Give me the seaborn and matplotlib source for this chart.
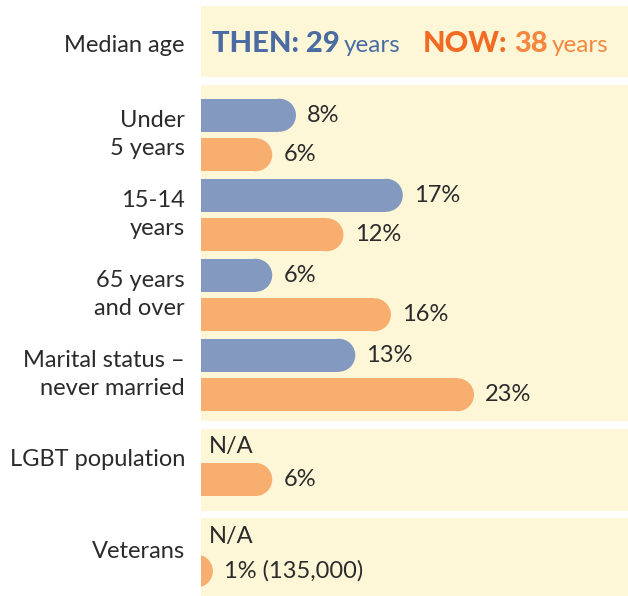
import pandas as pd
import seaborn as sns
import matplotlib.pyplot as plt
from matplotlib.patches import Ellipse
from matplotlib.transforms import ScaledTranslation

# Data
groups = ["Under\n5 years", "15-14\nyears", "65 years\nand over", "Marital status –\nnever married"]
then_vals = [8, 17, 6, 13]
now_vals = [6, 12, 16, 23]
lgbt_now = [6]
vets_now = [1]
vets_label = "1% (135,000)"
median_then = 29
median_now = 38

# Colors
blue_bar = "#8499C0"
orange_bar = "#F8AE6F"
cream = "#FDF7D8"
txt = "#2B2B2B"
blue_txt = "#4A6CA3"
orange_dark = "#F26B22"
orange_txt = "#F5873F"

sns.set_style("white")
plt.rcParams["font.family"] = ["Lato", "DejaVu Sans"]

W, H = 628, 596
fig = plt.figure(figsize=(W / 100, H / 100), dpi=100)
fig.patch.set_facecolor("white")

x_left = 201
px_per_pct = 11.87
xmax = (W - x_left) / px_per_pct
px_per_unit = 80  # vertical pixels per category unit
fs = 17


def panel_axes(top, bottom):
    return fig.add_axes([x_left / W, (H - bottom) / H, (W - x_left) / W, (bottom - top) / H])


def draw_panel(ax, df, ylim, labels=None):
    sns.barplot(data=df, x="value", y="group", hue="period", hue_order=["Then", "Now"],
                palette={"Then": blue_bar, "Now": orange_bar}, orient="h", dodge=True,
                width=0.9875, gap=0.165, errorbar=None, saturation=1, legend=False, ax=ax)
    ax.set_facecolor(cream)
    ax.set_xlim(0, xmax)
    ax.set_ylim(*ylim)
    ax.set(xlabel="", ylabel="", xticks=[])
    sns.despine(ax=ax, left=True, bottom=True)
    ax.tick_params(axis="y", length=0, pad=11.5, labelsize=fs, labelcolor=txt)
    for t in ax.get_yticklabels():
        t.set_linespacing(1.4)
        nudge = (2 + 4 * t.get_text().count("\n")) / 100
        t.set_transform(t.get_transform() + ScaledTranslation(0, nudge, fig.dpi_scale_trans))
    rx = (px_per_unit * 0.4125 / 2) / px_per_pct
    bars = [p for p in ax.patches if p.get_width() == p.get_width()]
    for i, p in enumerate(bars):
        w, h = p.get_width(), p.get_height()
        yc = p.get_y() + h / 2
        p.set_width(w - rx)
        p.set_linewidth(0)
        ax.add_patch(Ellipse((w - rx, yc), 2 * rx, h, facecolor=p.get_facecolor(),
                             edgecolor="none", linewidth=0))
        lab = labels[i] if labels else f"{w:.0f}%"
        ax.annotate(lab, xy=(w, yc), xytext=(8, 0), textcoords="offset points",
                    ha="left", va="center", fontsize=fs, color=txt)


# Header panel
ax1 = panel_axes(6, 77)
ax1.set_facecolor(cream)
ax1.set_xticks([])
ax1.set_yticks([])
sns.despine(ax=ax1, left=True, bottom=True)
ax1.text(-16 / (W - x_left), 0.45, "Median age", transform=ax1.transAxes,
         ha="right", va="center", fontsize=fs, color=txt)
base = 25 / 71
t1 = ax1.text(11 / (W - x_left), base, f"THEN: {median_then}", transform=ax1.transAxes,
              fontsize=21, fontweight="black", color=blue_txt, va="baseline")
ax1.annotate("years", xy=(1, 0), xycoords=t1, xytext=(3, 1), textcoords="offset points",
             va="bottom", fontsize=17.5, color=blue_txt)
t2 = ax1.text(222 / (W - x_left), base, "NOW:", transform=ax1.transAxes,
              fontsize=21, fontweight="black", color=orange_dark, va="baseline")
t3 = ax1.annotate(f"{median_now}", xy=(1, 0), xycoords=t2, xytext=(5, 0), textcoords="offset points",
                  va="bottom", fontsize=21, fontweight="black", color=orange_txt)
ax1.annotate("years", xy=(1, 0), xycoords=t3, xytext=(3, 1), textcoords="offset points",
             va="bottom", fontsize=17.5, color=orange_txt)

# Age / marital panel
df_main = pd.DataFrame({
    "group": groups * 2,
    "period": ["Then"] * len(groups) + ["Now"] * len(groups),
    "value": then_vals + now_vals,
})
ax2 = panel_axes(85, 421)
draw_panel(ax2, df_main, (3.575, -0.625))

# LGBT panel
df_lgbt = pd.DataFrame({"group": ["LGBT population"], "period": ["Now"], "value": lgbt_now})
ax3 = panel_axes(429, 511)
draw_panel(ax3, df_lgbt, (0.641, -0.384))
ax3.text(0.7, -0.16, "N/A", ha="left", va="center", fontsize=fs, color=txt)

# Veterans panel
df_vets = pd.DataFrame({"group": ["Veterans"], "period": ["Now"], "value": vets_now})
ax4 = panel_axes(518, 596)
draw_panel(ax4, df_vets, (0.559, -0.416), labels=[vets_label])
ax4.text(0.7, -0.18, "N/A", ha="left", va="center", fontsize=fs, color=txt)

fig.savefig("out.png", dpi=100, facecolor="white")
